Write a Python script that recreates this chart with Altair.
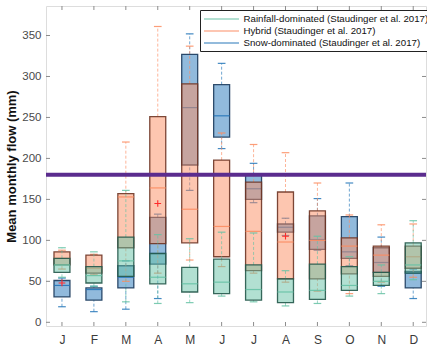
import altair as alt
import pandas as pd

# Month labels (x positions 1..12)
months = ["J", "F", "M", "A", "M", "J", "J", "A", "S", "O", "N", "D"]

groups = [
    "Rainfall-dominated (Staudinger et al. 2017)",
    "Hybrid (Staudinger et al. 2017)",
    "Snow-dominated (Staudinger et al. 2017)",
]

# Box statistics (mm): lower whisker, Q1, median, Q3, upper whisker
rain_lo  = [55, 44, 25, 23, 24, 32, 25, 20, 23, 32, 35, 52]
rain_q1  = [61, 48, 56, 47, 37, 35, 27, 24, 28, 39, 45, 60]
rain_med = [70, 57, 75, 55, 47, 49, 40, 37, 39, 45, 50, 70]
rain_q3  = [78, 68, 104, 84, 67, 77, 70, 53, 71, 68, 61, 97]
rain_hi  = [91, 86, 161, 107, 102, 110, 109, 63, 105, 80, 70, 124]

hyb_lo  = [65, 58, 50, 60, 76, 68, 60, 49, 38, 35, 49, 55]
hyb_q1  = [70, 60, 91, 96, 97, 80, 63, 53, 53, 59, 56, 66]
hyb_med = [78, 66, 153, 164, 138, 117, 111, 98, 100, 93, 82, 80]
hyb_q3  = [86, 82, 157, 251, 291, 198, 171, 159, 136, 103, 93, 93]
hyb_hi  = [88, 83, 220, 361, 337, 231, 217, 207, 170, 131, 119, 120]

snow_lo  = [19, 13, 16, 29, 161, 212, 146, 106, 88, 69, 44, 29]
snow_q1  = [31, 27, 42, 71, 192, 226, 150, 110, 89, 78, 61, 42]
snow_med = [45, 40, 55, 84, 262, 252, 163, 116, 101, 86, 73, 60]
snow_q3  = [51, 42, 69, 128, 327, 290, 180, 120, 130, 129, 91, 62]
snow_hi  = [54, 44, 75, 132, 352, 316, 194, 127, 151, 170, 104, 65]

# Hybrid "+" markers
plus_month = [1, 4, 8]
plus_value = [48, 145, 105]

threshold = [180]

y_ticks = [0, 50, 100, 150, 200, 250, 300, 350]

colors = ["#66c2a5", "#fc8d62", "#2376b9"]
edges = ["#24584a", "#6e3424", "#1b3a5c"]

rows = []
for g, lo, q1, md, q3, hi in [
    (groups[0], rain_lo, rain_q1, rain_med, rain_q3, rain_hi),
    (groups[1], hyb_lo, hyb_q1, hyb_med, hyb_q3, hyb_hi),
    (groups[2], snow_lo, snow_q1, snow_med, snow_q3, snow_hi),
]:
    for i in range(12):
        rows.append({"m": i + 1, "group": g, "lo": lo[i], "q1": q1[i],
                     "med": md[i], "q3": q3[i], "hi": hi[i]})
df = pd.DataFrame(rows)

W, H = 380, 320
xs = alt.Scale(domain=[0.5, 12.4], nice=False, zero=False)
ys = alt.Scale(domain=[-4.5, 386], nice=False, zero=False)

label_expr = "[" + ",".join(f"'{m}'" for m in months) + "][datum.value - 1]"
x_axis = alt.Axis(values=list(range(1, 13)), labelExpr=label_expr, title=None,
                  tickSize=0, domain=False, grid=False, labelFontSize=12,
                  labelColor="#3a3a3a", labelPadding=8, labelFont="Liberation Sans",
                  labelOverlap=False)
y_axis = alt.Axis(values=y_ticks, title="Mean monthly flow (mm)", tickSize=0,
                  domain=False, grid=False, labelFontSize=11.5, labelColor="#4a4a4a",
                  labelPadding=5, labelFont="Liberation Sans", labelOverlap=False,
                  titleFont="Liberation Sans", titleFontSize=13, titleFontWeight="bold",
                  titleColor="#111111", titleX=-35, titleY=160, titleBaseline="middle",
                  titleAlign="center", titleAngle=270)


def X(field):
    return alt.X(field, scale=xs, axis=x_axis)


def Y(field):
    return alt.Y(field, scale=ys, axis=y_axis)


legend = alt.Legend(title=None, orient="none", legendX=154, legendY=4,
                    symbolType="M-1,0H6", symbolSize=100, symbolStrokeWidth=1.3,
                    labelOffset=28.5, labelFont="Liberation Sans", labelFontSize=9.7,
                    labelColor="#111111", labelLimit=400, strokeColor="#222222",
                    fillColor="white", padding=3, rowPadding=1)
color_enc = alt.Color("group:N", scale=alt.Scale(domain=groups, range=colors), legend=legend)

layers = []
# draw order: snow, hybrid, rainfall
for gi in [2, 1, 0]:
    base = (alt.Chart(df)
            .transform_filter(alt.datum.group == groups[gi])
            .transform_calculate(bl="datum.m - 0.25", br="datum.m + 0.25",
                                 cl="datum.m - 0.12", cr="datum.m + 0.12"))
    whisk_lo = base.mark_rule(strokeDash=[3, 2], opacity=0.65, strokeWidth=1).encode(
        x=X("m:Q"), y=Y("lo:Q"), y2="q1:Q", color=color_enc)
    whisk_hi = base.mark_rule(strokeDash=[3, 2], opacity=0.65, strokeWidth=1).encode(
        x=X("m:Q"), y=Y("q3:Q"), y2="hi:Q", color=color_enc)
    cap_lo = base.mark_rule(opacity=0.85, strokeWidth=1.2).encode(
        x=X("cl:Q"), x2="cr:Q", y=Y("lo:Q"), color=color_enc)
    cap_hi = base.mark_rule(opacity=0.85, strokeWidth=1.2).encode(
        x=X("cl:Q"), x2="cr:Q", y=Y("hi:Q"), color=color_enc)
    box = base.mark_rect(fill=colors[gi], fillOpacity=0.5, stroke=edges[gi],
                         strokeOpacity=0.9, strokeWidth=1.3).encode(
        x=X("bl:Q"), x2="br:Q", y=Y("q1:Q"), y2="q3:Q")
    med = base.mark_rule(strokeWidth=1.2, opacity=0.9).encode(
        x=X("bl:Q"), x2="br:Q", y=Y("med:Q"), color=color_enc)
    layers += [whisk_lo, whisk_hi, cap_lo, cap_hi, box, med]

plus = alt.Chart(pd.DataFrame({"m": plus_month, "v": plus_value})).mark_point(
    shape="M-1,0H1M0,-1V1", filled=False, color="#ff2a2a", size=45, strokeWidth=1.1,
    opacity=1).encode(x=X("m:Q"), y=Y("v:Q"))

line = alt.Chart(pd.DataFrame({"t": threshold})).mark_rule(
    color="#5b2c8e", strokeWidth=4).encode(y=Y("t:Q"))

# inward tick marks on all four sides
tick_color = "#8c8c8c"
yt = pd.DataFrame({"v": y_ticks})
mt = pd.DataFrame({"m": list(range(1, 13))})
ticks = [
    alt.Chart(yt).mark_rule(color=tick_color).encode(
        y=Y("v:Q"), x=alt.value(0), x2=alt.value(4)),
    alt.Chart(yt).mark_rule(color=tick_color).encode(
        y=Y("v:Q"), x=alt.value(W - 4), x2=alt.value(W)),
    alt.Chart(mt).mark_rule(color=tick_color).encode(
        x=X("m:Q"), y=alt.value(0), y2=alt.value(4)),
    alt.Chart(mt).mark_rule(color=tick_color).encode(
        x=X("m:Q"), y=alt.value(H - 4), y2=alt.value(H)),
]

chart = (alt.layer(*ticks, *layers, line, plus)
         .properties(width=W, height=H,
                     autosize=alt.AutoSizeParams(type="none"),
                     padding={"left": 46, "top": 6, "right": 1, "bottom": 28})
         .configure_view(stroke="#8c8c8c", strokeWidth=1)
         .configure(background="white"))

chart.save("out.html", embed_options={"renderer": "svg", "actions": False})
